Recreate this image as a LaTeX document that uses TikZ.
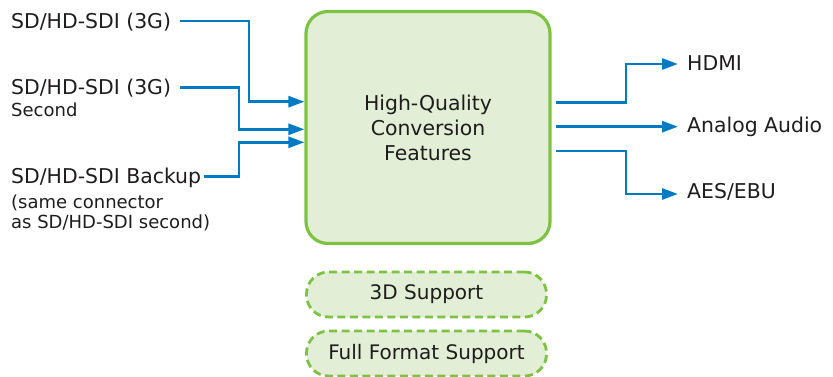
\documentclass[tikz,border=0pt]{standalone}
\usepackage{fontspec}
\setmainfont{DejaVu Sans}
\usetikzlibrary{arrows.meta,calc}
\definecolor{txt}{RGB}{30,28,28}
\definecolor{blu}{RGB}{0,122,195}
\definecolor{grn}{RGB}{125,194,66}
\definecolor{gfill}{RGB}{226,239,214}
\tikzset{
  big/.style={font=\fontsize{20.4}{25}\selectfont, text=txt, inner sep=0pt},
  small/.style={font=\fontsize{18}{19.5}\selectfont, text=txt, inner sep=0pt},
  arr/.style={draw=blu, line width=2.8pt, -{Triangle[length=16pt,width=11pt]}},
  mainbox/.style={draw=grn, fill=gfill, line width=3.2pt, rounded corners=22pt},
  pill/.style={draw=grn, fill=gfill, line width=2.8pt, dash pattern=on 8pt off 4.5pt, rounded corners=22pt, minimum width=240pt, minimum height=45pt, font=\fontsize{20}{23}\selectfont, text=txt, inner sep=0pt}
}
\begin{document}
\begin{tikzpicture}[x=1pt,y=-1pt]
\useasboundingbox (0,0) rectangle (833,377);
% main box
\node[mainbox, minimum width=244pt, minimum height=232pt, inner sep=0pt] (box) at (428,127.5) {};
\node[big, align=center] (boxtext) at (428,128) {High-Quality\\Conversion\\Features};
% pills
\node[pill] (p3d) at (426.5,294.5) {3D Support};
\node[pill] (pff) at (426.5,353.5) {Full Format Support};
% left labels
\node[big, anchor=base west] (in1) at (11,28.3) {SD/HD-SDI (3G)};
\node[big, anchor=base west] (in2) at (11,95) {SD/HD-SDI (3G)};
\node[small, anchor=base west] (in2b) at (11,116.7) {Second};
\node[big, anchor=base west] (in3) at (11,183.5) {SD/HD-SDI Backup};
\node[small, anchor=base west, align=left] (in3b) at (11,208.5) {(same connector};
\node[small, anchor=base west, align=left] (in3c) at (11,228) {as SD/HD-SDI second)};
% right labels
\node[big, anchor=base west] (o1) at (687,70.7) {HDMI};
\node[big, anchor=base west] (o2) at (687,133) {Analog Audio};
\node[big, anchor=base west] (o3) at (687,198.5) {AES/EBU};
% connector coordinates
\coordinate (s1) at (180,21);
\coordinate (k1) at (249,101.7);
\coordinate (s2) at (180,87.3);
\coordinate (k2) at (239,129.3);
\coordinate (s3) at (204,176.7);
\coordinate (k3) at (239,142.3);
\draw[arr] (s1) -| (k1) -- (box.west |- k1);
\draw[arr] (s2) -| (k2) -- (box.west |- k2);
\draw[arr] (s3) -| (k3) -- (box.west |- k3);
\coordinate (r1) at (556,102.3);
\coordinate (r2) at (556,126.7);
\coordinate (r3) at (556,151);
\coordinate (t1) at (678,64);
\coordinate (t2) at (678,126.7);
\coordinate (t3) at (678,194);
\draw[arr] (r1) -- (626,102.3) |- (t1);
\draw[arr] (r2) -- (t2);
\draw[arr] (r3) -- (626,151) |- (t3);
\end{tikzpicture}
\end{document}
